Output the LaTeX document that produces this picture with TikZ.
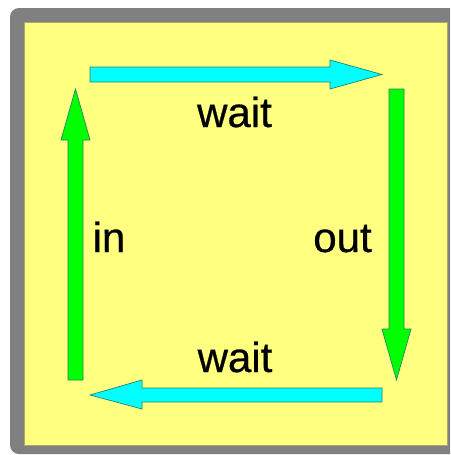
\documentclass[tikz,border=0pt]{standalone}
\usepackage{fontspec}
\setmainfont{Liberation Sans}
\newfontfamily\labelfont[FakeBold=0.6]{Liberation Sans}
\definecolor{framegray}{RGB}{128,128,128}
\definecolor{paleyellow}{RGB}{255,255,128}
\definecolor{arrowcyan}{RGB}{0,255,255}
\definecolor{arrowgreen}{RGB}{0,255,0}
\definecolor{edgeline}{RGB}{40,130,110}
\tikzset{
  cyanarrow/.style={fill=arrowcyan, draw=edgeline, line width=0.7pt, line join=miter},
  greenarrow/.style={fill=arrowgreen, draw=edgeline, line width=0.7pt, line join=miter},
  label/.style={inner sep=0pt, anchor=base, font=\labelfont\fontsize{42}{50}\selectfont}
}
\begin{document}
\begin{tikzpicture}[x=1pt, y=-1pt]
\clip (0,0) rectangle (450,455);
\fill[white] (0,0) rectangle (450,455);
% frame
\fill[framegray, rounded corners=9pt] (10,8) rectangle (462,454);
\filldraw[fill=paleyellow, draw={rgb,255:red,170;green,170;blue,110}, line width=0.5pt] (24,22) rectangle (447,445);
% top arrow (right)
\path[cyanarrow] (90,67) -- (330,67) -- (330,60) -- (382,74.5) -- (330,89) -- (330,82) -- (90,82) -- cycle;
% right arrow (down)
\path[greenarrow] (389,89) -- (404,89) -- (404,329) -- (411,329) -- (396.5,380) -- (382,329) -- (389,329) -- cycle;
% bottom arrow (left)
\path[cyanarrow] (382,388) -- (142,388) -- (142,380) -- (90,395) -- (142,409) -- (142,402) -- (382,402) -- cycle;
% left arrow (up)
\path[greenarrow] (68,380) -- (68,140) -- (61,140) -- (75.5,89) -- (90,140) -- (83,140) -- (83,380) -- cycle;
% labels
\node[label] (waittop) at (234.5,127) {wait};
\node[label] (out) at (342.5,252) {out};
\node[label] (in) at (109,252) {in};
\node[label] (waitbottom) at (235,372) {wait};
\end{tikzpicture}
\end{document}
